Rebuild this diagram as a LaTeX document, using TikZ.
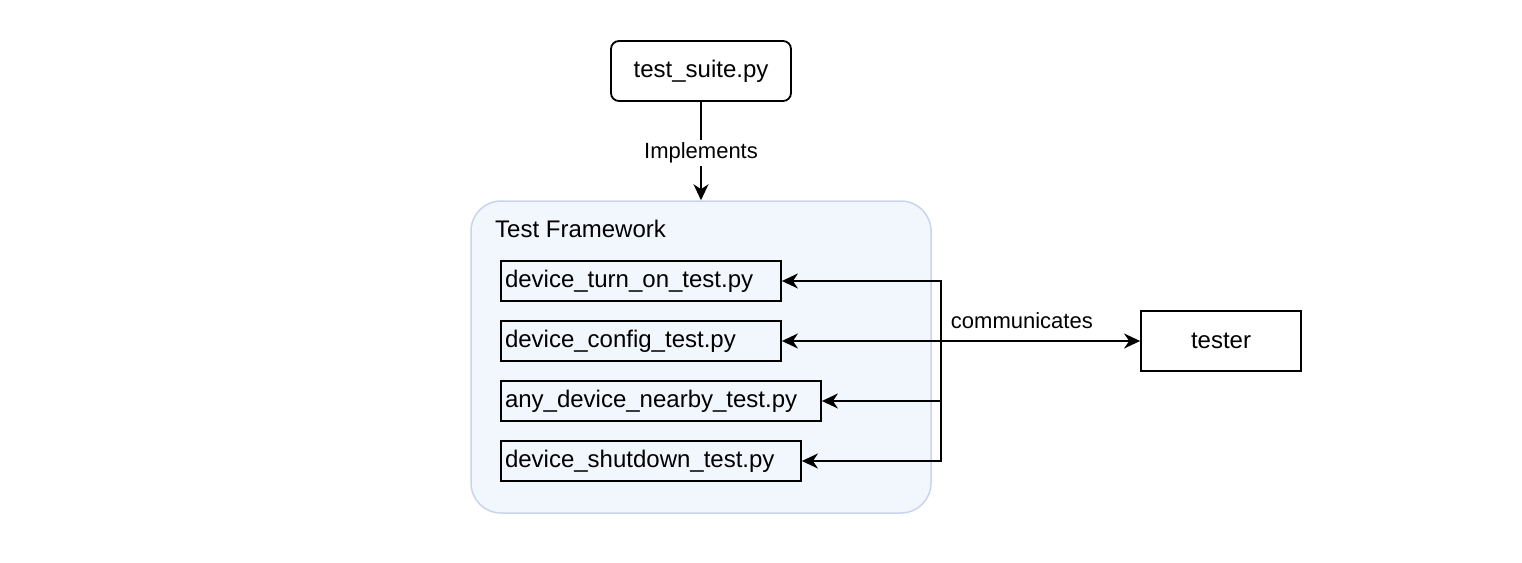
\documentclass[tikz,border=0pt]{standalone}
\usepackage{fontspec}
\setmainfont{Liberation Sans}
\usetikzlibrary{arrows.meta,positioning}
\definecolor{frameFill}{RGB}{242,246,253}
\definecolor{frameLine}{RGB}{201,213,236}
\begin{document}
\begin{tikzpicture}[x=1pt,y=-1pt,
    >={Stealth[length=16pt,width=15pt,inset=5pt]},
    boxfont/.style={font=\fontsize{24}{28}\selectfont},
    labelfont/.style={font=\fontsize{22}{26}\selectfont},
    file/.style={draw,line width=1.8pt,boxfont,minimum height=40pt,inner xsep=4pt,inner ysep=0pt,align=left},
    conn/.style={line width=1.8pt}]
                    \useasboundingbox (0,0) rectangle (1522,562);

                    \node[draw=frameLine,fill=frameFill,line width=1.5pt,rounded corners=30pt,minimum width=460pt,minimum height=312pt] (frame) at (701,357) {};
                    \node[boxfont,anchor=west,inner sep=0pt] (title) at (495,229) {Test Framework};

                    \node[draw,line width=1.8pt,rounded corners=8pt,boxfont,minimum width=180pt,minimum height=60pt] (suite) at (701,71) {test\_suite.py};

                    \node[file,text width=272pt] (turnon) at (641,281) {device\_turn\_on\_test.py};
                    \node[file,text width=272pt] (config) at (641,341) {device\_config\_test.py};
                    \node[file,text width=312pt] (nearby) at (661,401) {any\_device\_nearby\_test.py};
                    \node[file,text width=292pt] (shutdown) at (651,461) {device\_shutdown\_test.py};

                    \node[draw,line width=1.8pt,boxfont,minimum width=160pt,minimum height=60pt] (tester) at (1221,341) {tester};

                    \draw[conn,->] (suite.south) -- node[fill=white,labelfont,inner sep=3pt,yshift=-2pt] {Implements} (frame.north);

                    \coordinate (hub) at (941,341);
                    \draw[conn,<->] (config.east) -- node[pos=0.67,above=11pt,labelfont,inner sep=0pt] {communicates} (tester.west);
                    \draw[conn,->] (hub) |- (turnon.east);
                    \draw[conn,->] (hub) |- (nearby.east);
                    \draw[conn,->] (hub) |- (shutdown.east);
                \end{tikzpicture}
\end{document}
